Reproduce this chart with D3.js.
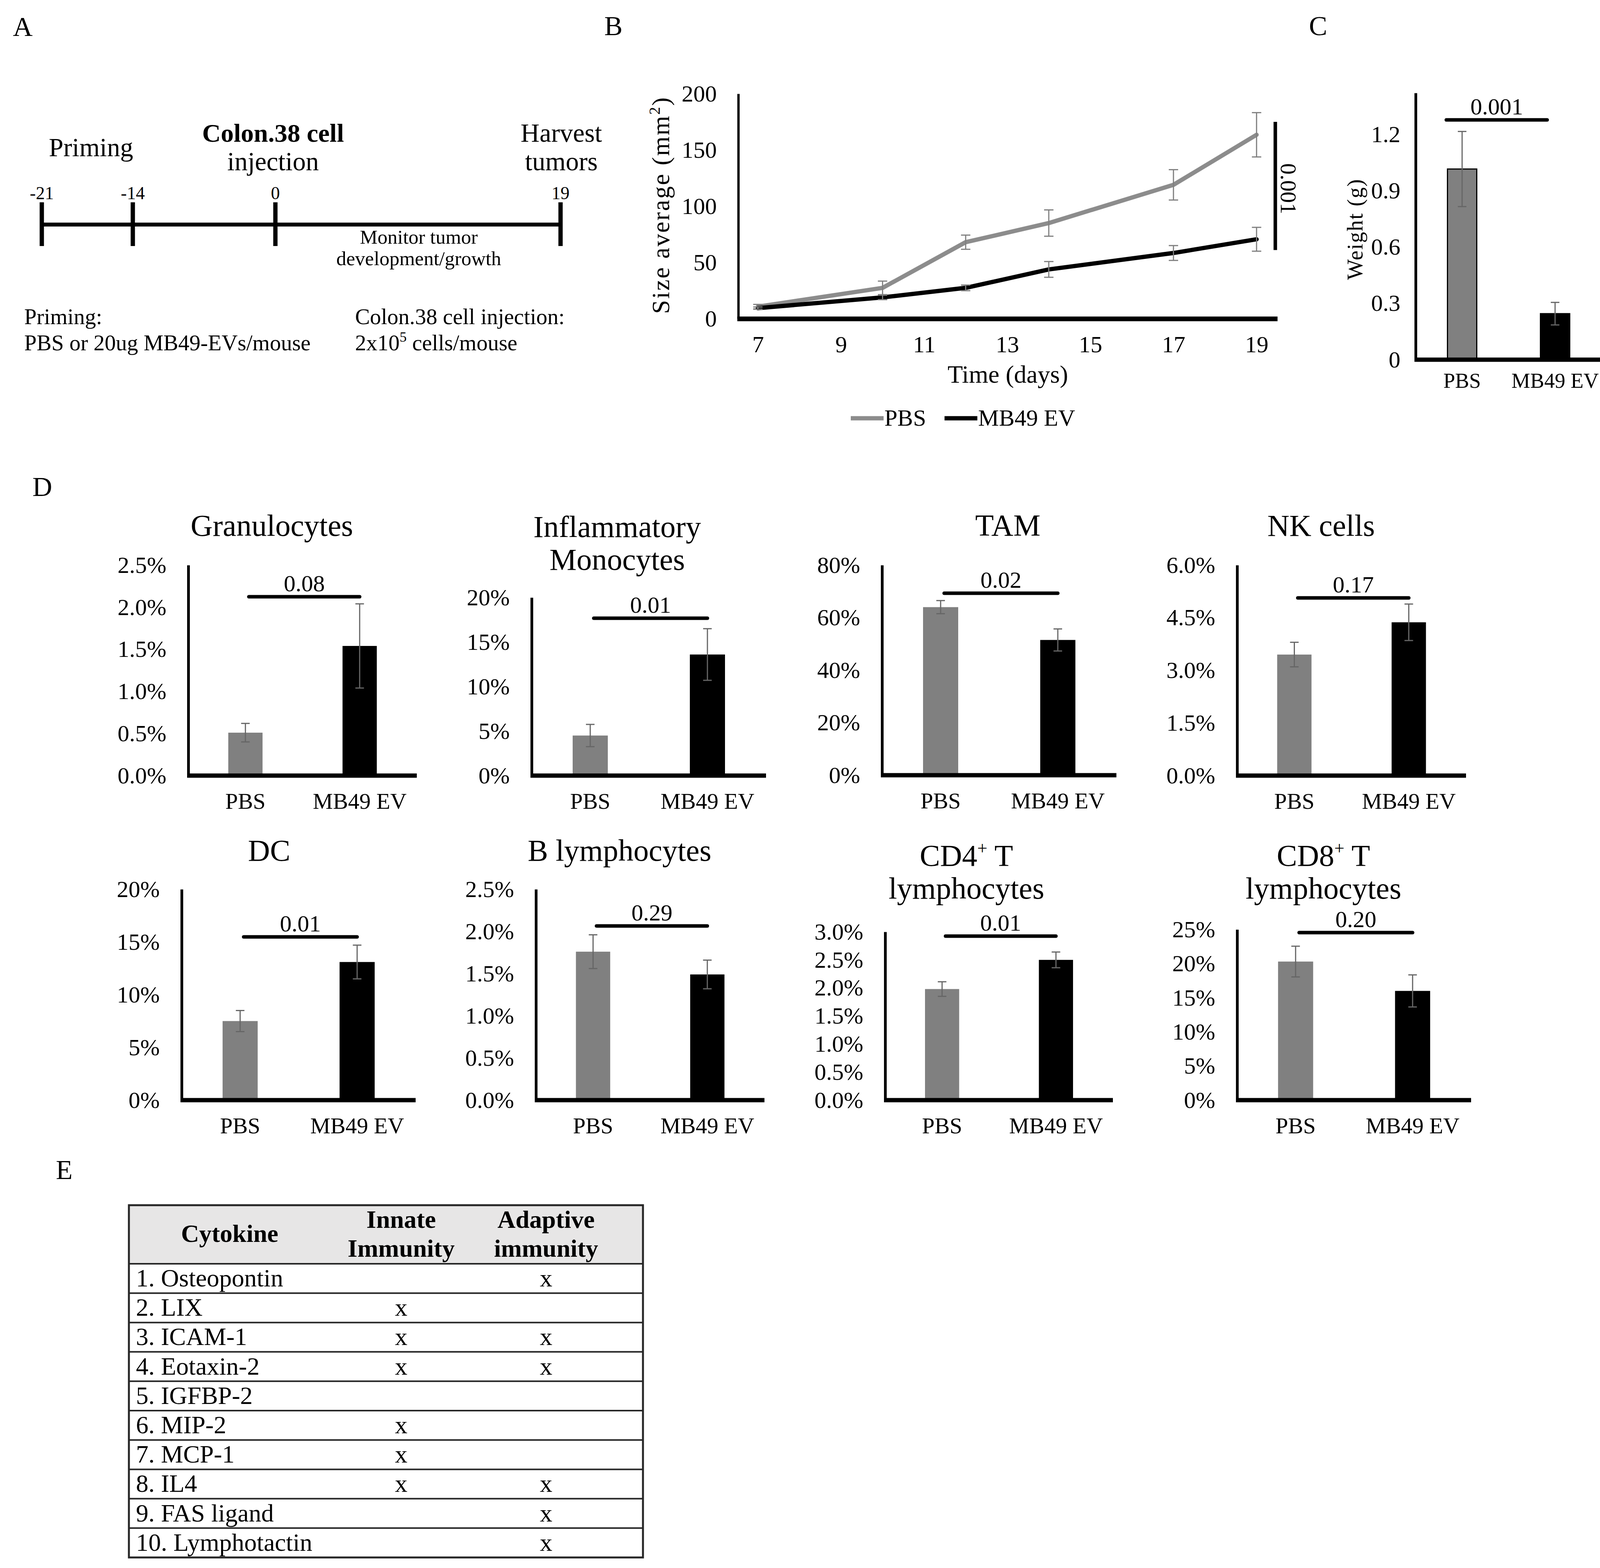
<!DOCTYPE html>
<html>
<head>
<meta charset="utf-8">
<script src="https://cdn.jsdelivr.net/npm/d3@7"></script>
<style>
body { margin: 0; background: #fff; }
text { font-family: "Liberation Serif", "Times New Roman", serif; fill: #000; }
</style>
</head>
<body>
<svg id="fig"></svg>
<script>
const W = 4128, H = 4015;

// ---- panel A: timeline ----
const timelineDays = [-21, -14, 0, 19];

// ---- panel B: tumour growth ----
const growthDays = [7, 10, 12, 14, 17, 19];
const growthPBS = [10.7, 27.4, 68, 85, 119, 163.5];
const growthPBSErr = [2, 6, 6.3, 11.7, 13.5, 19.7];
const growthEV = [9.4, 18.9, 27.4, 43.8, 58.4, 70.6];
const growthEVErr = [1, 2, 2.5, 7, 6.6, 10.6];
const growthXTicks = [7, 9, 11, 13, 15, 17, 19];
const growthYTicks = [0, 50, 100, 150, 200];
const growthP = "0.001";

// ---- panel C: tumour weight ----
const groups = ["PBS", "MB49 EV"];
const weightMeans = [1.015, 0.245];
const weightErr = [0.2, 0.06];
const weightTicks = [0, 0.3, 0.6, 0.9, 1.2];
const weightP = "0.001";

// ---- panel D: immune cells (%) ----
const cellTitles = [["Granulocytes"], ["Inflammatory", "Monocytes"], ["TAM"], ["NK cells"],
                    ["DC"], ["B lymphocytes"], ["CD4⁺ T", "lymphocytes"], ["CD8⁺ T", "lymphocytes"]];
const cellPBS = [0.51, 4.5, 64, 3.45, 7.5, 1.76, 1.98, 20.3];
const cellPBSErr = [0.11, 1.25, 2.5, 0.35, 1.0, 0.2, 0.13, 2.25];
const cellEV = [1.54, 13.6, 51.5, 4.37, 13.1, 1.49, 2.5, 16.0];
const cellEVErr = [0.5, 2.9, 4.2, 0.52, 1.6, 0.17, 0.14, 2.35];
const cellP = ["0.08", "0.01", "0.02", "0.17", "0.01", "0.29", "0.01", "0.20"];
const cellTicks = [[0, 0.5, 1, 1.5, 2, 2.5], [0, 5, 10, 15, 20], [0, 20, 40, 60, 80], [0, 1.5, 3, 4.5, 6],
                   [0, 5, 10, 15, 20], [0, 0.5, 1, 1.5, 2, 2.5], [0, 0.5, 1, 1.5, 2, 2.5, 3], [0, 5, 10, 15, 20, 25]];
const cellDecimals = [1, 0, 0, 1, 0, 1, 1, 0];

// ---- panel E: cytokine table ----
const cytokines = ["1. Osteopontin", "2. LIX", "3. ICAM-1", "4. Eotaxin-2", "5. IGFBP-2",
                   "6. MIP-2", "7. MCP-1", "8. IL4", "9. FAS ligand", "10. Lymphotactin"];
const innateMarks = [false, true, true, true, false, true, true, true, false, false];
const adaptiveMarks = [true, false, true, true, false, false, false, true, true, true];

const svg = d3.select("#fig").attr("width", W).attr("height", H).attr("viewBox", [0, 0, W, H]);
svg.append("rect").attr("width", W).attr("height", H).attr("fill", "#fff");

function label(g, txt, x, y, size, anchor, weight) {
    return g.append("text").text(txt).attr("x", x).attr("y", y)
        .attr("font-size", size).attr("text-anchor", anchor || "start")
        .attr("font-weight", weight || "normal");
}

function errorBar(g, x, lo, hi, cap, color) {
    g.append("line").attr("x1", x).attr("x2", x).attr("y1", lo).attr("y2", hi)
        .attr("stroke", color).attr("stroke-width", 3);
    [lo, hi].forEach(y => g.append("line").attr("x1", x - cap / 2).attr("x2", x + cap / 2)
        .attr("y1", y).attr("y2", y).attr("stroke", color).attr("stroke-width", 3));
}

// panel letters
label(svg, "A", 33, 92, 70);
label(svg, "B", 1547, 90, 70);
label(svg, "C", 3351, 90, 70);
label(svg, "D", 83, 1270, 70);
label(svg, "E", 143, 3019, 70);

// ================= A =================
const gA = svg.append("g");
const xA = d3.scaleLinear().domain(timelineDays).range([107, 340, 705, 1435]);
gA.append("line").attr("x1", xA(-21)).attr("x2", xA(19)).attr("y1", 575).attr("y2", 575)
    .attr("stroke", "#000").attr("stroke-width", 10);
gA.selectAll(".tk").data(timelineDays).enter().append("line")
    .attr("x1", d => xA(d)).attr("x2", d => xA(d)).attr("y1", 518).attr("y2", 630)
    .attr("stroke", "#000").attr("stroke-width", 11);
gA.selectAll(".tl").data(timelineDays).enter().append("text")
    .text(d => d).attr("x", d => xA(d)).attr("y", 510).attr("font-size", 46).attr("text-anchor", "middle");
label(gA, "Priming", 233, 400, 67, "middle");
label(gA, "Colon.38 cell", 699, 363, 66, "middle", "bold");
label(gA, "injection", 699, 436, 67, "middle");
label(gA, "Harvest", 1437, 363, 67, "middle");
label(gA, "tumors", 1437, 436, 67, "middle");
label(gA, "Monitor tumor", 1072, 624, 51, "middle");
label(gA, "development/growth", 1072, 679, 51, "middle");
label(gA, "Priming:", 62, 830, 57);
label(gA, "PBS or 20ug MB49-EVs/mouse", 62, 897, 57);
label(gA, "Colon.38 cell injection:", 909, 830, 57);
const sup = label(gA, "2x10", 909, 897, 57);
sup.append("tspan").text("5").attr("font-size", 36).attr("dy", -22);
sup.append("tspan").text(" cells/mouse").attr("dy", 22);

// ================= B =================
const gB = svg.append("g");
const xB = d3.scaleLinear().domain([6.5, 19.5]).range([1887, 3270]);
const yB = d3.scaleLinear().domain([0, 200]).range([816, 240]);

const axBy = gB.append("g").attr("transform", "translate(1890,0)")
    .call(d3.axisLeft(yB).tickValues(growthYTicks).tickSize(0).tickSizeOuter(0).tickPadding(55));
axBy.select(".domain").attr("stroke-width", 6);
axBy.selectAll("text").attr("font-size", 60).attr("font-family", "Liberation Serif");
const axBx = gB.append("g").attr("transform", "translate(0,816)")
    .call(d3.axisBottom(xB).tickValues(growthXTicks).tickSize(0).tickSizeOuter(0).tickPadding(43));
axBx.select(".domain").attr("stroke-width", 12);
axBx.selectAll("text").attr("font-size", 60).attr("font-family", "Liberation Serif");

const seriesB = [
    { vals: growthPBS, err: growthPBSErr, color: "#8c8c8c" },
    { vals: growthEV, err: growthEVErr, color: "#000" }
];
const lineB = d3.line().x(d => xB(d[0])).y(d => yB(d[1]));
seriesB.forEach(s => {
    const pts = growthDays.map((d, i) => [d, s.vals[i]]);
    gB.append("path").datum(pts).attr("d", lineB).attr("fill", "none")
        .attr("stroke", s.color).attr("stroke-width", 11)
        .attr("stroke-linejoin", "round").attr("stroke-linecap", "round");
    growthDays.forEach((d, i) => errorBar(gB, xB(d), yB(s.vals[i] - s.err[i]), yB(s.vals[i] + s.err[i]), 24, "#7f7f7f"));
});

// significance bracket
const sigBx = xB(19) + 48;
gB.append("line").attr("x1", sigBx).attr("x2", sigBx).attr("y1", yB(61)).attr("y2", yB(175))
    .attr("stroke", "#000").attr("stroke-width", 9);
gB.append("text").text(growthP).attr("font-size", 58).attr("text-anchor", "middle")
    .attr("transform", `translate(${sigBx + 14},${yB(115.5)}) rotate(90)`);

// axis titles
const tB = gB.append("text").attr("font-size", 64).attr("text-anchor", "middle").attr("letter-spacing", 3)
    .attr("transform", "translate(1713,525) rotate(-90)");
tB.append("tspan").text("Size average (mm");
tB.append("tspan").text("2").attr("font-size", 40).attr("dy", -24);
tB.append("tspan").text(")").attr("dy", 24);
label(gB, "Time (days)", 2580, 980, 64, "middle");

// legend
gB.append("line").attr("x1", 2178).attr("x2", 2262).attr("y1", 1071).attr("y2", 1071)
    .attr("stroke", "#8c8c8c").attr("stroke-width", 11);
label(gB, "PBS", 2264, 1090, 60);
gB.append("line").attr("x1", 2418).attr("x2", 2502).attr("y1", 1071).attr("y2", 1071)
    .attr("stroke", "#000").attr("stroke-width", 11);
label(gB, "MB49 EV", 2504, 1090, 60);

// ================= bar panels (C, D) =================
function barPanel(o) {
    const g = svg.append("g");
    const x = d3.scaleBand().domain(groups).range([o.ax, o.right]).paddingInner(o.pad).paddingOuter(o.pad / 2);
    const y = d3.scaleLinear().domain([0, o.ticks[o.ticks.length - 1] * (o.topExtra || 1)]).range([o.y0, o.top]);

    // bars
    g.selectAll("rect").data(o.means).enter().append("rect")
        .attr("x", (d, i) => x(groups[i])).attr("width", x.bandwidth())
        .attr("y", d => y(d)).attr("height", d => o.y0 - y(d))
        .attr("fill", (d, i) => i === 0 ? "#808080" : "#000")
        .attr("stroke", o.outline ? "#000" : "none").attr("stroke-width", o.outline ? 3 : 0);
    o.means.forEach((m, i) => errorBar(g, x(groups[i]) + x.bandwidth() / 2,
        y(m - o.errs[i]), y(m + o.errs[i]), 22, "#666"));

    // axes
    const ay = g.append("g").attr("transform", `translate(${o.ax},0)`)
        .call(d3.axisLeft(y).tickValues(o.ticks).tickSize(0).tickSizeOuter(0).tickPadding(o.tickPad)
            .tickFormat(o.fmt));
    ay.select(".domain").attr("stroke-width", 7);
    ay.selectAll("text").attr("font-size", 60).attr("font-family", "Liberation Serif");
    const ax = g.append("g").attr("transform", `translate(0,${o.y0})`)
        .call(d3.axisBottom(x).tickSize(0).tickSizeOuter(0).tickPadding(o.xPad));
    ax.select(".domain").attr("stroke-width", 11).attr("d", `M${o.ax - 3},0H${o.right}`);
    ax.selectAll("text").attr("font-size", o.xFont || 58).attr("font-family", "Liberation Serif");

    // significance bar
    const sx1 = x(groups[0]) + x.bandwidth() * o.sigStart;
    const sx2 = x(groups[1]) + x.bandwidth() * o.sigEnd;
    g.append("line").attr("x1", sx1).attr("x2", sx2).attr("y1", o.sig).attr("y2", o.sig)
        .attr("stroke", "#000").attr("stroke-width", 9).attr("stroke-linecap", "round");
    label(g, o.p, (sx1 + sx2) / 2, o.sig - 14, 60, "middle");

    // title
    (o.title || []).forEach((t, k) => {
        const tt = g.append("text").attr("x", o.tx).attr("y", o.ty + k * 84)
            .attr("font-size", 78).attr("text-anchor", "middle");
        const parts = t.split("⁺");
        tt.append("tspan").text(parts[0]);
        if (parts.length > 1) {
            tt.append("tspan").text("+").attr("font-size", 46).attr("dy", -30);
            tt.append("tspan").text(parts[1]).attr("dy", 30);
        }
    });
    return g;
}

// C
const gC = barPanel({
    ax: 3624, right: 4100, top: 238, y0: 921, pad: 0.685, ticks: weightTicks, topExtra: 1.42 / 1.2,
    means: weightMeans, errs: weightErr, outline: true, tickPad: 39, xPad: 34, xFont: 54,
    fmt: d => d === 0 ? "0" : d3.format(".1f")(d), sig: 307, p: weightP, sigStart: -0.04, sigEnd: 0.23
});
gC.append("text").text("Weight (g)").attr("font-size", 56).attr("text-anchor", "middle")
    .attr("letter-spacing", 2).attr("transform", "translate(3488,587) rotate(-90)");

// D
const dLayout = [
    { ax: 482, top: 1447, right: 1067, y0: 1986, sig: 1528, tx: 696, ty: 1372 },
    { ax: 1361, top: 1530, right: 1961, y0: 1986, sig: 1583, tx: 1580, ty: 1375 },
    { ax: 2258, top: 1447, right: 2858, y0: 1985, sig: 1519, tx: 2580, ty: 1371 },
    { ax: 3167, top: 1447, right: 3753, y0: 1986, sig: 1531, tx: 3382, ty: 1372 },
    { ax: 465, top: 2277, right: 1064, y0: 2817, sig: 2399, tx: 689, ty: 2204 },
    { ax: 1372, top: 2277, right: 1957, y0: 2817, sig: 2371, tx: 1586, ty: 2204 },
    { ax: 2266, top: 2386, right: 2849, y0: 2817, sig: 2397, tx: 2474, ty: 2217 },
    { ax: 3167, top: 2380, right: 3766, y0: 2817, sig: 2388, tx: 3388, ty: 2217 }
];
dLayout.forEach((L, i) => {
    barPanel(Object.assign({}, L, {
        pad: 0.7, ticks: cellTicks[i], means: [cellPBS[i], cellEV[i]], errs: [cellPBSErr[i], cellEVErr[i]],
        outline: false, tickPad: 56, xPad: 44, fmt: d => d.toFixed(cellDecimals[i]) + "%",
        p: cellP[i], sigStart: 0.6, sigEnd: 0.5, title: cellTitles[i]
    }));
});

// ================= E: table =================
const gE = svg.append("g");
const tLeft = 330, tRight = 1646, tTop = 3086, tHead = 3236, tBottom = 3988;
const colCenters = [588, 1027, 1398];
const rowY = d3.scaleBand().domain(d3.range(cytokines.length)).range([tHead, tBottom]);

gE.append("rect").attr("x", tLeft).attr("y", tTop).attr("width", tRight - tLeft).attr("height", tHead - tTop)
    .attr("fill", "#e7e6e6");
label(gE, "Cytokine", colCenters[0], 3180, 64, "middle", "bold");
label(gE, "Innate", colCenters[1], 3144, 64, "middle", "bold");
label(gE, "Immunity", colCenters[1], 3218, 64, "middle", "bold");
label(gE, "Adaptive", colCenters[2], 3144, 64, "middle", "bold");
label(gE, "immunity", colCenters[2], 3218, 64, "middle", "bold");

const rows = gE.selectAll(".row").data(cytokines).enter().append("g")
    .attr("transform", (d, i) => `translate(0,${rowY(i)})`);
rows.append("text").text(d => d).attr("x", 348).attr("y", 58).attr("font-size", 64);
rows.append("text").text((d, i) => innateMarks[i] ? "x" : "").attr("x", colCenters[1]).attr("y", 58)
    .attr("font-size", 64).attr("text-anchor", "middle");
rows.append("text").text((d, i) => adaptiveMarks[i] ? "x" : "").attr("x", colCenters[2]).attr("y", 58)
    .attr("font-size", 64).attr("text-anchor", "middle");
// horizontal rules
gE.selectAll(".rule").data(d3.range(cytokines.length)).enter().append("line")
    .attr("x1", tLeft).attr("x2", tRight).attr("y1", i => rowY(i)).attr("y2", i => rowY(i))
    .attr("stroke", "#262626").attr("stroke-width", 4);
gE.append("rect").attr("x", tLeft).attr("y", tTop).attr("width", tRight - tLeft).attr("height", tBottom - tTop)
    .attr("fill", "none").attr("stroke", "#262626").attr("stroke-width", 5);
</script>
</body>
</html>
